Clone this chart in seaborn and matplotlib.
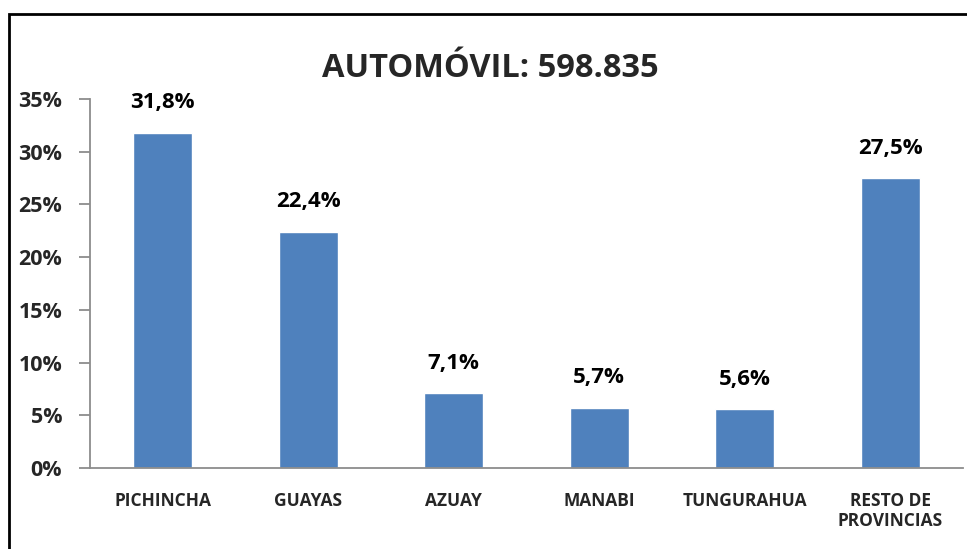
import pandas as pd
import matplotlib.pyplot as plt
import seaborn as sns
from matplotlib.patches import Rectangle
from matplotlib.ticker import FixedLocator

provincias = ["PICHINCHA", "GUAYAS", "AZUAY", "MANABI", "TUNGURAHUA", "RESTO DE\nPROVINCIAS"]
porcentajes = [0.318, 0.224, 0.071, 0.057, 0.056, 0.275]
etiquetas = ["31,8%", "22,4%", "7,1%", "5,7%", "5,6%", "27,5%"]
yticks = [0, 0.05, 0.10, 0.15, 0.20, 0.25, 0.30, 0.35]
ytick_labels = ["0%", "5%", "10%", "15%", "20%", "25%", "30%", "35%"]

df = pd.DataFrame({"provincia": provincias, "pct": porcentajes})

sns.set_style("white")
plt.rcParams["font.family"] = ["Open Sans", "DejaVu Sans"]

fig = plt.figure(figsize=(9.67, 5.49), dpi=100)
ax = fig.add_axes([0.0931, 0.1475, 0.9028, 0.6722])

sns.barplot(data=df, x="provincia", y="pct", color="#4F81BD", width=0.405,
            saturation=1, ax=ax)

for cont in ax.containers:
    ax.bar_label(cont, labels=etiquetas, padding=14, fontsize=16,
                 fontweight="bold", color="black")

ax.set_xlim(-0.5, len(provincias) - 0.5)
ax.set_ylim(0, 0.35)
ax.set_yticks(yticks)
ax.set_yticklabels(ytick_labels, fontsize=15.5, fontweight="bold")
ax.set_xlabel("")
ax.set_ylabel("")
ax.tick_params(axis="x", which="major", length=0, pad=17, labelsize=12.5)
for t in ax.get_xticklabels():
    t.set_fontweight("bold")
ax.xaxis.set_minor_locator(FixedLocator([i - 0.5 for i in range(len(provincias) + 1)]))
ax.tick_params(axis="x", which="minor", length=7, width=1.3, color="#8c8c8c", direction="out")
ax.tick_params(axis="y", length=8, width=1.3, color="#8c8c8c", direction="out", pad=12, left=True)

for s in ["top", "right"]:
    ax.spines[s].set_visible(False)
for s in ["left", "bottom"]:
    ax.spines[s].set_color("#8c8c8c")
    ax.spines[s].set_linewidth(1.3)

fig.text(0.507, 0.876, "AUTOMÓVIL: 598.835", ha="center", va="center",
         fontsize=23.5, fontweight="bold")

fig.patches.append(Rectangle((9 / 967, -0.05), 1.1, 1 - 14 / 549 + 0.05,
                             transform=fig.transFigure, fill=False,
                             edgecolor="black", linewidth=2, zorder=10))

fig.savefig("out.png", dpi=100)
